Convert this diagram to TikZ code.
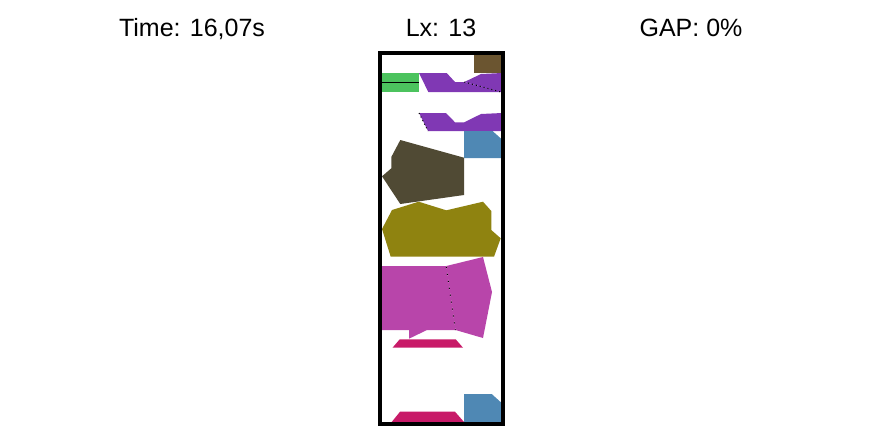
\documentclass[tikz,border=0pt]{standalone}
\usepackage{fontspec}
\setmainfont{Liberation Sans}

\definecolor{piecebrown}{RGB}{107,85,48}
\definecolor{piecegreen}{RGB}{76,195,94}
\definecolor{piecepurple}{RGB}{128,56,180}
\definecolor{pieceblue}{RGB}{79,136,180}
\definecolor{piecedark}{RGB}{80,74,52}
\definecolor{pieceolive}{RGB}{143,131,16}
\definecolor{piecemagenta}{RGB}{184,69,170}
\definecolor{piececrimson}{RGB}{200,26,104}

\tikzset{
    headline/.style={anchor=base, font=\fontsize{25}{30}\selectfont},
    seam/.style={black, line width=1pt, dash pattern=on 1pt off 3pt},
    wideseam/.style={black, line width=1pt, dash pattern=on 1pt off 6pt}
}

\begin{document}
\begin{tikzpicture}[x=1pt,y=-1pt]

    \useasboundingbox (0,0) rectangle (883,440);

    \node[headline] (time) at (192,36) {Time: 16,07s};
    \node[headline] (lx)   at (441,36) {Lx: 13};
    \node[headline] (gap)  at (691,36) {GAP: 0\%};

    % pieces packed in the strip, top to bottom
    \fill[piecebrown] (474,55) rectangle (501,73);

    \fill[piecegreen] (381,73) rectangle (419,92);
    \draw[black, line width=1pt] (381,82.3) -- (419,82.3);

    \fill[piecepurple] (419,73) -- (446.7,73) -- (455,82) -- (464.3,82) -- (501,92) -- (428.3,92) -- cycle;
    \fill[piecepurple] (464.3,82) -- (481,74) -- (502,73) -- (502,92) -- (501,92) -- cycle;
    \draw[seam] (464.3,82) -- (501,92);

    \fill[piecepurple] (419,113) -- (446,113) -- (455,122.3) -- (464.3,122.3) -- (481,114) -- (502,113) -- (502,131) -- (428,131) -- cycle;
    \draw[seam] (419,113) -- (428,131);

    \fill[pieceblue] (464,131) -- (492.5,131) -- (502,139.5) -- (502,158) -- (464,158) -- cycle;

    \fill[piecedark] (400.3,140) -- (464,157.7) -- (464,195) -- (400.3,204) -- (382,176.3) -- (391.3,168.3) -- (391.3,157) -- cycle;

    \fill[pieceolive] (392,210) -- (418.7,201.7) -- (446.3,210.3) -- (483,201.7) -- (491.3,211) -- (491.3,230) -- (500.7,238.3) -- (494,256.7) -- (390.7,256.7) -- (382,229) -- cycle;

    \fill[piecemagenta] (381,266) -- (446.3,266) -- (455.5,330) -- (427,330) -- (409,338.7) -- (409,330) -- (381,330) -- cycle;
    \fill[piecemagenta] (446.3,266) -- (483,257) -- (492,292) -- (483,338) -- (455.5,330) -- cycle;
    \draw[wideseam] (446.3,267) -- (455.5,330);

    \fill[piececrimson] (399.7,339.3) -- (455.7,339.3) -- (463,347.7) -- (392.5,347.7) -- cycle;

    \fill[piececrimson] (400,411.7) -- (455,411.7) -- (464,422) -- (391.7,422) -- cycle;
    \fill[pieceblue] (464,394) -- (491.7,394) -- (502,403.3) -- (502,422) -- (464,422) -- cycle;

    % strip border
    \draw[black, line width=4pt] (380,53) rectangle (503,423.5);

\end{tikzpicture}
\end{document}
